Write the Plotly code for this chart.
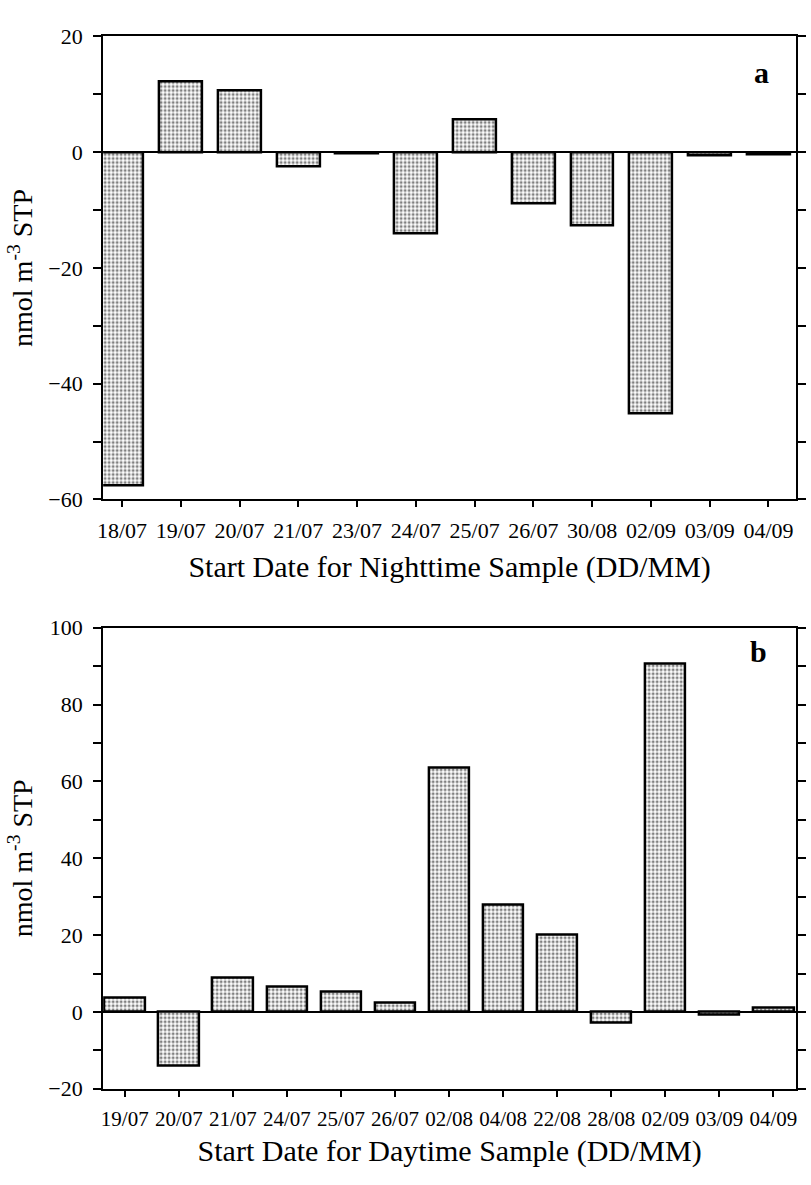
import plotly.graph_objects as go

W, H = 811, 1185

night_dates = ["18/07", "19/07", "20/07", "21/07", "23/07", "24/07", "25/07",
               "26/07", "30/08", "02/09", "03/09", "04/09"]
night_values = [-57.5, 12.2, 10.7, -2.5, -0.3, -14.0, 5.7, -8.9, -12.7, -45.2, -0.5, -0.4]

day_dates = ["19/07", "20/07", "21/07", "24/07", "25/07", "26/07", "02/08",
             "04/08", "22/08", "28/08", "02/09", "03/09", "04/09"]
day_values = [3.8, -14.0, 8.8, 6.5, 5.2, 2.4, 63.5, 28.0, 20.0, -2.8, 90.6, -0.8, 1.2]

FONT = "Liberation Serif, Times New Roman, serif"

def px_x(p):
    return p / W

def px_y(p):
    return 1 - p / H

bar_style = dict(
    color="white",
    line=dict(color="black", width=2.5),
    pattern=dict(shape=".", size=4, solidity=0.45, fgcolor="black", bgcolor="white"),
)

fig = go.Figure()
fig.add_trace(go.Bar(x=list(range(len(night_dates))), y=night_values, width=0.73,
                     marker=bar_style, xaxis="x", yaxis="y", showlegend=False))
fig.add_trace(go.Bar(x=list(range(len(day_dates))), y=day_values, width=0.75,
                     marker=bar_style, xaxis="x2", yaxis="y2", showlegend=False))

common_x = dict(
    showline=True, linecolor="black", linewidth=2, mirror=True,
    ticks="outside", ticklen=6, tickwidth=1.5, tickcolor="black",
    showgrid=False, zeroline=False,
    title_font=dict(family=FONT, size=30, color="black"),
    ticklabelstandoff=4,
)
common_y = dict(
    showline=True, linecolor="black", linewidth=2, mirror="ticks",
    ticks="outside", ticklen=8, tickwidth=1.5, tickcolor="black",
    showgrid=False, zeroline=True, zerolinecolor="black", zerolinewidth=1.5,
    tickfont=dict(family=FONT, size=22, color="black"),
    title_font=dict(family=FONT, size=28, color="black"),
    tick0=0, dtick=20, ticklabelstandoff=6,
    minor=dict(dtick=10, ticks="outside", ticklen=8, tickwidth=1.5, tickcolor="black",
               showgrid=False),
)

fig.update_layout(
    width=W, height=H,
    margin=dict(l=0, r=0, t=0, b=0),
    paper_bgcolor="white", plot_bgcolor="white",
    bargap=0,
    xaxis=dict(common_x, domain=[px_x(98), px_x(797)], anchor="y",
               range=[-0.32, 11.47], tickmode="array",
               tickvals=list(range(len(night_dates))), ticktext=night_dates,
               tickfont=dict(family=FONT, size=22, color="black"),
               title=dict(text="Start Date for Nighttime Sample (DD/MM)", standoff=14)),
    yaxis=dict(common_y, domain=[px_y(498), px_y(25)], anchor="x",
               range=[-60, 20],
               title=dict(text="nmol m<sup>-3</sup> STP", standoff=8)),
    xaxis2=dict(common_x, domain=[px_x(98), px_x(797)], anchor="y2",
                range=[-0.40, 12.42], tickmode="array",
                tickvals=list(range(len(day_dates))), ticktext=day_dates,
                tickfont=dict(family=FONT, size=21, color="black"),
                title=dict(text="Start Date for Daytime Sample (DD/MM)", standoff=10)),
    yaxis2=dict(common_y, domain=[px_y(1100), px_y(629)], anchor="x2",
                range=[-20, 100],
                title=dict(text="nmol m<sup>-3</sup> STP", standoff=8)),
    annotations=[
        dict(text="<b>a</b>", x=px_x(772), y=px_y(43), xref="paper", yref="paper",
             showarrow=False, font=dict(family=FONT, size=30, color="black")),
        dict(text="<b>b</b>", x=px_x(770), y=px_y(653), xref="paper", yref="paper",
             showarrow=False, font=dict(family=FONT, size=30, color="black")),
    ],
)

fig.write_html("out.html")
